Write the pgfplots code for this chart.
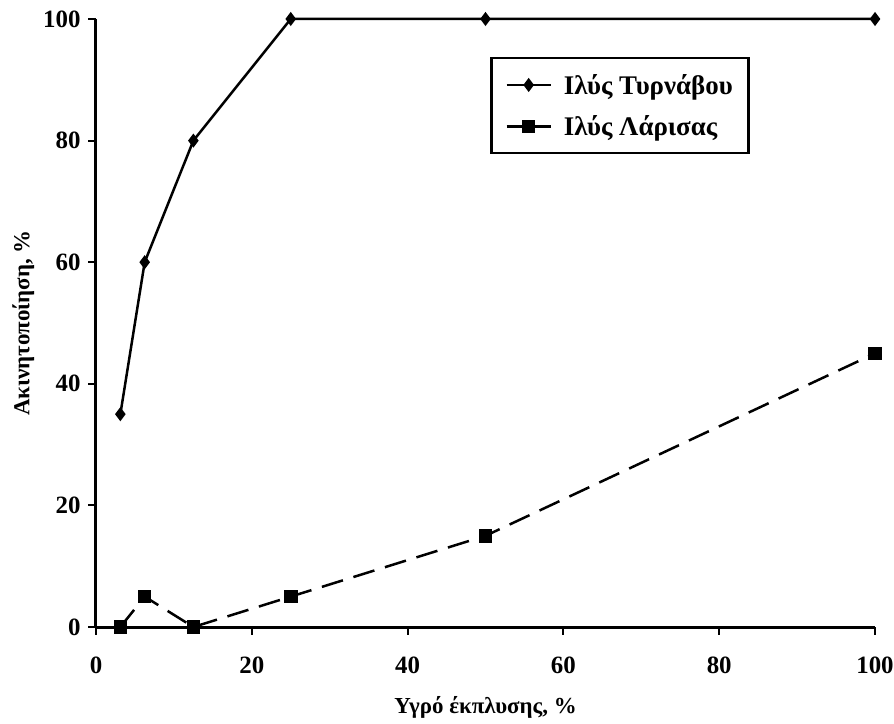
\documentclass[border=0pt]{standalone}
\usepackage{fontspec}
\setmainfont{Liberation Serif}
\usepackage{pgfplots}
\pgfplotsset{compat=1.18}
\begin{document}
\begin{tikzpicture}
\begin{axis}[
  scale only axis, width=779bp, height=608bp,
  xmin=0, xmax=100, ymin=0, ymax=100,
  axis lines*=left,
  axis line style={line width=3bp, black},
  xtick={0,20,...,100}, ytick={0,20,...,100},
  tick align=outside, major tick length=8bp,
  tick style={black, line width=2bp},
  /pgf/number format/assume math mode=true,
  ticklabel style={font=\fontsize{25}{27}\selectfont\bfseries},
  xticklabel style={yshift=-18bp},
  yticklabel style={xshift=-4bp},
  xlabel={Υγρό έκπλυσης, \%},
  ylabel={Ακινητοποίηση, \%},
  label style={font=\fontsize{23}{26}\selectfont\bfseries},
  xlabel style={yshift=-16bp},
  ylabel style={yshift=2bp},
  legend style={at={(0.506,0.9375)}, anchor=north west, draw=black, line width=2.5bp,
    font=\fontsize{27}{30}\selectfont\bfseries, row sep=16bp, inner xsep=14bp, inner ysep=14bp,
    column sep=10bp},
  legend image code/.code={\draw[mark repeat=2,mark phase=2,#1,solid] plot coordinates {(0bp,0bp) (22bp,0bp) (44bp,0bp)};},
  legend cell align=left,
  clip=false,
]
\addplot[black, line width=2.5bp, mark=diamond*, mark size=5bp, mark options={solid}]
  coordinates {(3.125,35) (6.25,60) (12.5,80) (25,100) (50,100) (100,100)};
\addlegendentry{Ιλύς Τυρνάβου}
\addplot[black, line width=2.5bp, dash pattern=on 22bp off 11bp, mark=square*, mark size=5.5bp, mark options={solid}]
  coordinates {(3.125,0) (6.25,5) (12.5,0) (25,5) (50,15) (100,45)};
\addlegendentry{Ιλύς Λάρισας}
\end{axis}
\pgfresetboundingbox
\path[use as bounding box] ([shift={(-96bp,-97bp)}]current axis.south west) rectangle ([shift={(19bp,19bp)}]current axis.north east);
\end{tikzpicture}
\end{document}
